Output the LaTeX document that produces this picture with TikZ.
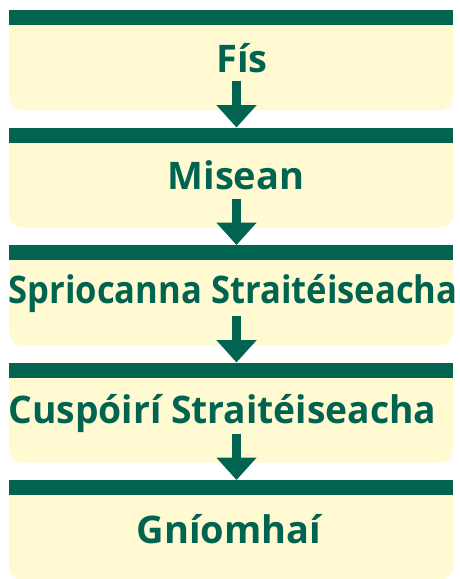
\documentclass[tikz,border=0pt]{standalone}
\usepackage{fontspec}
\setmainfont{Open Sans}
\usetikzlibrary{arrows.meta}
\definecolor{deepgreen}{RGB}{0,100,80}
\definecolor{paleyellow}{RGB}{255,250,210}

\begin{document}
\begin{tikzpicture}[x=1pt, y=-1pt,
    panel/.style={rectangle, fill=paleyellow, rounded corners=13pt, minimum width=444pt, minimum height=100pt, anchor=north, inner sep=0pt},
    bar/.style={rectangle, fill=deepgreen, minimum width=444pt, minimum height=15pt, anchor=north, inner sep=0pt},
    title/.style={text=deepgreen, font=\fontsize{38}{40}\selectfont\bfseries, anchor=base, inner sep=0pt},
    flow/.style={draw=deepgreen, line width=8.5pt, -{Triangle[length=22.5pt, width=39pt]}}]

            \useasboundingbox (0,0) rectangle (459,579);

            % one panel per level
            \foreach \i/\txt/\cx/\by/\sx in {1/Fís/242/62/1, 2/Misean/236/62/1, 3/Spriocanna Straitéiseacha/233/58/0.91, 4/Cuspóirí Straitéiseacha/222.5/61/0.98, 5/Gníomhaí/229/63/1} {
                \pgfmathsetmacro{\y}{10 + 117.5*(\i - 1)}
                \node[panel] (P\i) at (231, \y) {};
                \node[bar] (B\i) at (231, \y) {};
                \node[title] (T\i) at (\cx, \y + \by) {\scalebox{\sx}[1]{\txt}};
                \coordinate (S\i) at (236.5, \y + 71);
                \coordinate (E\i) at (236.5, \y);
            }

            \foreach \i in {1,...,4} {
                    \pgfmathtruncatemacro{\next}{\i+1}
                    \draw[flow] (S\i) -- (E\next);
            }

        \end{tikzpicture}
\end{document}
